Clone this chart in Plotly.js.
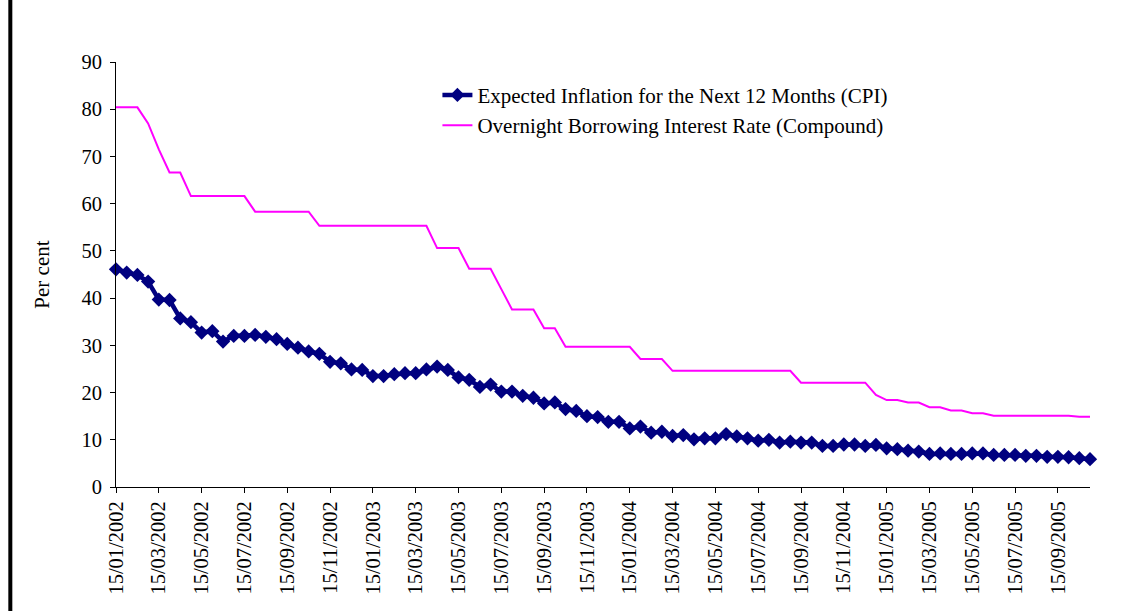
<!DOCTYPE html>
<html>
<head>
<meta charset="utf-8">
<script src="https://cdn.plot.ly/plotly-3.0.1.min.js"></script>
<style>html,body{margin:0;padding:0;background:#fff;}#chart{width:1131px;height:611px;}</style>
</head>
<body>
<div id="chart"></div>
<script>
const dates = [
"15/01/2002","31/01/2002","15/02/2002","28/02/2002","15/03/2002","31/03/2002","15/04/2002","30/04/2002","15/05/2002","31/05/2002","15/06/2002","30/06/2002",
"15/07/2002","31/07/2002","15/08/2002","31/08/2002","15/09/2002","30/09/2002","15/10/2002","31/10/2002","15/11/2002","30/11/2002","15/12/2002","31/12/2002",
"15/01/2003","31/01/2003","15/02/2003","28/02/2003","15/03/2003","31/03/2003","15/04/2003","30/04/2003","15/05/2003","31/05/2003","15/06/2003","30/06/2003",
"15/07/2003","31/07/2003","15/08/2003","31/08/2003","15/09/2003","30/09/2003","15/10/2003","31/10/2003","15/11/2003","30/11/2003","15/12/2003","31/12/2003",
"15/01/2004","31/01/2004","15/02/2004","29/02/2004","15/03/2004","31/03/2004","15/04/2004","30/04/2004","15/05/2004","31/05/2004","15/06/2004","30/06/2004",
"15/07/2004","31/07/2004","15/08/2004","31/08/2004","15/09/2004","30/09/2004","15/10/2004","31/10/2004","15/11/2004","30/11/2004","15/12/2004","31/12/2004",
"15/01/2005","31/01/2005","15/02/2005","28/02/2005","15/03/2005","31/03/2005","15/04/2005","30/04/2005","15/05/2005","31/05/2005","15/06/2005","30/06/2005",
"15/07/2005","31/07/2005","15/08/2005","31/08/2005","15/09/2005","30/09/2005","15/10/2005","31/10/2005"
];

const expectedInflation = [
46.1,45.4,44.9,43.5,39.7,39.6,35.7,34.9,32.7,33.0,
30.8,32.0,32.0,32.2,31.8,31.3,30.3,29.5,28.7,28.2,
26.5,26.2,24.9,24.8,23.5,23.5,23.9,24.1,24.1,24.9,
25.5,24.8,23.2,22.7,21.2,21.7,20.2,20.2,19.3,18.9,
17.7,17.9,16.5,16.1,15.0,14.8,13.8,13.8,12.4,12.8,
11.5,11.7,10.8,11.0,10.1,10.3,10.3,11.2,10.7,10.3,
9.8,10.0,9.4,9.6,9.4,9.4,8.7,8.7,9.0,9.0,
8.7,8.9,8.2,8.0,7.7,7.5,7.0,7.1,7.0,7.0,
7.1,7.1,6.8,6.8,6.8,6.6,6.6,6.4,6.4,6.3,
6.1,5.9
];

const overnightRate = [
80.4,80.4,80.4,77.0,71.5,66.6,66.6,61.6,61.6,61.6,
61.6,61.6,61.6,58.3,58.3,58.3,58.3,58.3,58.3,55.3,
55.3,55.3,55.3,55.3,55.3,55.3,55.3,55.3,55.3,55.3,
50.6,50.6,50.6,46.2,46.2,46.2,41.9,37.6,37.6,37.6,
33.6,33.6,29.7,29.7,29.7,29.7,29.7,29.7,29.7,27.1,
27.1,27.1,24.6,24.6,24.6,24.6,24.6,24.6,24.6,24.6,
24.6,24.6,24.6,24.6,22.1,22.1,22.1,22.1,22.1,22.1,
22.1,19.5,18.4,18.4,17.9,17.9,16.9,16.9,16.2,16.2,
15.6,15.6,15.1,15.1,15.1,15.1,15.1,15.1,15.1,15.1,
14.9,14.9
];

const seriesNames = [
"Expected Inflation for the Next 12 Months (CPI)",
"Overnight Borrowing Interest Rate (Compound)"
];
const yTicks = [0,10,20,30,40,50,60,70,80,90];

const FONT = "Liberation Serif, 'Times New Roman', serif";

const traces = [
  {
    x: dates, y: expectedInflation, name: seriesNames[0],
    type: "scatter", mode: "lines+markers",
    line: {color: "#000080", width: 4.5},
    marker: {symbol: "diamond", size: 11, color: "#000080"},
    cliponaxis: false
  },
  {
    x: dates, y: overnightRate, name: seriesNames[1],
    type: "scatter", mode: "lines",
    line: {color: "#FF00FF", width: 2},
    cliponaxis: false
  }
];

const layout = {
  width: 1131, height: 611,
  margin: {l: 116, r: 41, t: 62, b: 124, pad: 0},
  paper_bgcolor: "#ffffff", plot_bgcolor: "#ffffff",
  font: {family: FONT, size: 21, color: "#000"},
  showlegend: true,
  legend: {
    x: 0.33, y: 0.97, xanchor: "left", yanchor: "top",
    bgcolor: "rgba(0,0,0,0)", font: {family: FONT, size: 21, color: "#000"},
    tracegroupgap: 0
  },
  xaxis: {
    type: "category", range: [0, dates.length - 1],
    tickmode: "linear", tick0: 0, dtick: 4,
    tickangle: -90, ticks: "outside", ticklen: 5, tickcolor: "#000",
    showline: true, linecolor: "#000", linewidth: 1,
    showgrid: false, zeroline: false, automargin: false,
    tickfont: {family: FONT, size: 20.5, color: "#000"}
  },
  yaxis: {
    range: [0, 90], tickmode: "array", tickvals: yTicks,
    ticks: "outside", ticklen: 5, tickcolor: "#000",
    ticklabelstandoff: 4,
    showline: true, linecolor: "#000", linewidth: 1,
    showgrid: false, zeroline: false, automargin: false,
    tickfont: {family: FONT, size: 20.5, color: "#000"},
    title: {text: "Per cent", font: {family: FONT, size: 21, color: "#000"}, standoff: 26}
  },
  shapes: [
    {type: "line", xref: "paper", yref: "paper",
     x0: -0.1085, x1: -0.1085, y0: -0.3, y1: 1.16,
     line: {color: "#000", width: 4}}
  ]
};

Plotly.newPlot("chart", traces, layout, {displayModeBar: false, staticPlot: true});
</script>
</body>
</html>
